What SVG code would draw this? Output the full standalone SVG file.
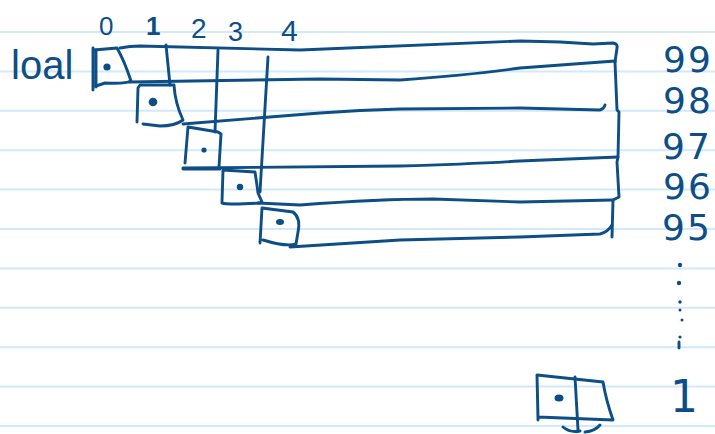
<svg xmlns="http://www.w3.org/2000/svg" width="715" height="434" viewBox="0 0 715 434">
  <style>
    .rule { stroke: #d2e9f9; stroke-width: 2; fill: none; }
    .ink { stroke: #0d4e87; stroke-width: 2.9; fill: none; stroke-linecap: round; stroke-linejoin: round; }
    .dot { fill: #0d4e87; }
    .hand { font-family: "Liberation Sans", "DejaVu Sans", sans-serif; fill: #0d4e87; }
    .hand2 { font-family: "DejaVu Sans", "Liberation Sans", sans-serif; fill: #0d4e87; }
  </style>

  <rect width="715" height="434" fill="#ffffff"/>

  <!-- ruled notebook paper -->
  <g id="paper">
    <line class="rule" x1="0" y1="32" x2="715" y2="32"/>
    <line class="rule" x1="0" y1="71.4" x2="715" y2="71.4"/>
    <line class="rule" x1="0" y1="110.8" x2="715" y2="110.8"/>
    <line class="rule" x1="0" y1="150.2" x2="715" y2="150.2"/>
    <line class="rule" x1="0" y1="189.6" x2="715" y2="189.6"/>
    <line class="rule" x1="0" y1="229" x2="715" y2="229"/>
    <line class="rule" x1="0" y1="268.4" x2="715" y2="268.4"/>
    <line class="rule" x1="0" y1="307.8" x2="715" y2="307.8"/>
    <line class="rule" x1="0" y1="347.2" x2="715" y2="347.2"/>
    <line class="rule" x1="0" y1="386.6" x2="715" y2="386.6"/>
    <line class="rule" x1="0" y1="426" x2="715" y2="426"/>
  </g>

  <!-- long row strips and index guides -->
  <g id="connectors">
    <path class="ink" d="M120,48 Q130,46 140,46 L300,50 Q420,45 520,41 L560,42 L593,44 L613,43 Q618,44 617,48 L615,62"/>
    <path class="ink" d="M129,82 L320,79 L400,80 Q470,75 520,68 L615,61"/>
    <path class="ink" d="M183,124 L320,113 Q360,110 400,109 L520,108 L600,110 Q604,109 605,105"/>
    <path class="ink" d="M615,62 L617,110 L619,112 L618,157 L617,162 L619,197 L613,200 L612,237"/>
    <path class="ink" d="M183,168 L400,166 Q470,164 520,161 L618,157"/>
    <path class="ink" d="M258,203 L300,205 Q380,199 433,199 L520,202 L613,200"/>
    <path class="ink" d="M290,247 Q340,244 400,240 L520,237 L600,234 Q608,232 612,225"/>
    <path class="ink" d="M166,45 L170,85"/>
    <path class="ink" d="M218,50 L215,132"/>
    <path class="ink" d="M268,57 L260,192"/>
  </g>

  <g id="label-local">
    <text class="hand" x="11" y="79" font-size="40">loal</text>
  </g>

  <g id="index-labels">
    <text class="hand" x="99" y="35" font-size="26">0</text>
    <text class="hand" x="146" y="35" font-size="26" font-weight="bold">1</text>
    <text class="hand" x="191" y="38" font-size="28">2</text>
    <text class="hand" x="228" y="41" font-size="27">3</text>
    <text class="hand" x="281" y="41" font-size="30">4</text>
  </g>

  <g id="cell-0">
    <path class="ink" d="M94,50 L117,48 Q124,60 131,81 Q126,84 105,83 L96,86"/>
    <path class="ink" d="M93,48 L93,90 M96,50 L96,87"/>
    <circle class="dot" cx="107" cy="67" r="3.6"/>
  </g>

  <g id="cell-1">
    <path class="ink" d="M138,88 L140,85 L174,85 Q175,103 183,120 Q175,126 160,126 L143,124 M138,88 L137,122"/>
    <circle class="dot" cx="153" cy="102" r="4.3"/>
  </g>

  <g id="cell-2">
    <path class="ink" d="M188,127 L218,132 L221,134 L219,167 M183,169 L220,169 M188,127 L185,163"/>
    <circle class="dot" cx="204" cy="150" r="2.6"/>
  </g>

  <g id="cell-3">
    <path class="ink" d="M223,170 L255,172 Q257,185 258,193 L262,202 M222,203 Q228,205 260,203 M223,170 L222,202"/>
    <circle class="dot" cx="240" cy="187" r="3.2"/>
  </g>

  <g id="cell-4">
    <path class="ink" d="M262,208 L293,212 Q301,218 298,232 L296,244 Q286,247 263,240 M262,208 L260,243"/>
    <ellipse class="dot" cx="280" cy="222" rx="4" ry="3"/>
  </g>

  <g id="row-labels">
    <text class="hand2" x="663" y="72" font-size="36" letter-spacing="2">99</text>
    <text class="hand2" x="663" y="113" font-size="36" letter-spacing="2">98</text>
    <text class="hand2" x="662" y="159" font-size="36" letter-spacing="2">97</text>
    <text class="hand2" x="663" y="199" font-size="36" letter-spacing="2">96</text>
    <text class="hand2" x="662" y="240" font-size="36" letter-spacing="2">95</text>
  </g>

  <g id="ellipsis">
    <circle class="dot" cx="680" cy="265" r="2.2"/>
    <circle class="dot" cx="679" cy="283" r="2.2"/>
    <circle class="dot" cx="680" cy="302" r="1.8"/>
    <circle class="dot" cx="680" cy="310" r="1.5"/>
    <circle class="dot" cx="682" cy="320" r="1.5"/>
    <circle class="dot" cx="680" cy="337" r="1.6"/>
    <path class="ink" d="M679,342 L679,348" stroke-width="2"/>
  </g>

  <g id="cell-1-last">
    <path class="ink" d="M537,375 L603,382 Q606,400 613,420 L538,417 Z M537,375 L538,420"/>
    <path class="ink" d="M575,377 L578,430"/>
    <path class="ink" d="M563,427 Q570,433 580,431 M585,432 Q595,431 600,425"/>
    <ellipse class="dot" cx="559" cy="398" rx="4.5" ry="3.6"/>
    <text class="hand2" x="670" y="412" font-size="44">1</text>
  </g>
</svg>
